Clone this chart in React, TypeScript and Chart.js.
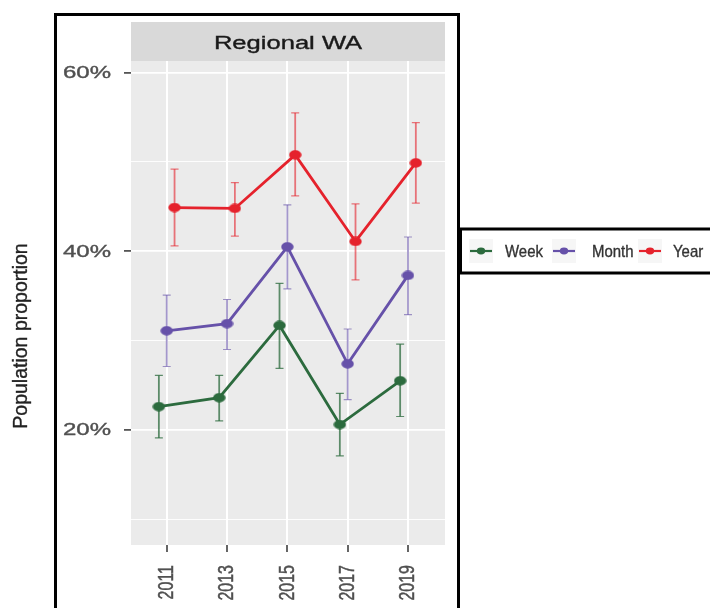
import { useEffect, useRef } from "react";
import { Chart, registerables } from "chart.js";

Chart.register(...registerables);

// ---------- data ----------
const YEARS = [2011, 2013, 2015, 2017, 2019];
const SERIES_NAMES = ["Week", "Month", "Year"];

const WEEK = [22.6, 23.6, 31.7, 20.6, 25.5];
const WEEK_LO = [19.1, 21.0, 26.9, 17.1, 21.5];
const WEEK_HI = [26.1, 26.1, 36.4, 24.1, 29.6];

const MONTH = [31.1, 31.9, 40.5, 27.4, 37.3];
const MONTH_LO = [27.1, 29.0, 35.8, 23.4, 32.9];
const MONTH_HI = [35.1, 34.6, 45.2, 31.3, 41.6];

const YEAR = [44.9, 44.8, 50.8, 41.1, 49.9];
const YEAR_LO = [40.6, 41.7, 46.2, 36.8, 45.4];
const YEAR_HI = [49.2, 47.7, 55.5, 45.3, 54.4];

const Y_GRID = [10, 20, 30, 40, 50, 60];
const Y_LABELED = [20, 40, 60];
const PANEL_TITLE = "Regional WA";
const Y_TITLE = "Population proportion";

// ---------- styling ----------
const COLORS = ["#2C6B3E", "#6651A9", "#E5222C"];
const ERR_COLORS = ["rgba(44,107,62,0.75)", "rgba(102,81,169,0.6)", "rgba(229,34,44,0.6)"];
const DODGE = [-0.26, 0, 0.26];
const FONT = "'Liberation Sans', Arial, sans-serif";

function makeDot(color: string, w: number, h: number) {
  const c = document.createElement("canvas");
  c.width = w;
  c.height = h;
  const g = c.getContext("2d")!;
  g.fillStyle = color;
  g.beginPath();
  g.ellipse(w / 2, h / 2, w / 2 - 0.3, h / 2 - 0.3, 0, 0, Math.PI * 2);
  g.fill();
  return c;
}

function stretchedText(
  ctx: CanvasRenderingContext2D,
  text: string,
  x: number,
  y: number,
  font: string,
  color: string,
  sx: number,
  sy: number,
  rotate: number,
  align: CanvasTextAlign,
  baseline: CanvasTextBaseline
) {
  ctx.save();
  ctx.translate(x, y);
  ctx.scale(sx, sy);
  if (rotate) ctx.rotate(rotate);
  ctx.font = font;
  ctx.fillStyle = color;
  ctx.strokeStyle = color;
  ctx.lineWidth = 0.35;
  ctx.textAlign = align;
  ctx.textBaseline = baseline;
  ctx.fillText(text, 0, 0);
  ctx.strokeText(text, 0, 0);
  ctx.restore();
}

export default function App() {
  const ref = useRef<HTMLCanvasElement | null>(null);

  useEffect(() => {
    const canvas = ref.current;
    if (!canvas) return;

    const values = [WEEK, MONTH, YEAR];
    const lows = [WEEK_LO, MONTH_LO, YEAR_LO];
    const highs = [WEEK_HI, MONTH_HI, YEAR_HI];

    const panelPlugin = {
      id: "panelPlugin",
      beforeDraw(chart: any) {
        const { ctx, chartArea } = chart;
        ctx.save();
        ctx.fillStyle = "#ffffff";
        ctx.fillRect(0, 0, chart.width, chart.height);
        ctx.fillStyle = "#EBEBEB";
        ctx.fillRect(chartArea.left, chartArea.top, chartArea.right - chartArea.left, chartArea.bottom - chartArea.top);
        // strip
        ctx.fillStyle = "#D9D9D9";
        ctx.fillRect(chartArea.left, 22, chartArea.right - chartArea.left, chartArea.top - 22);
        ctx.restore();
      },
      beforeDatasetsDraw(chart: any) {
        const { ctx } = chart;
        const xs = chart.scales.x;
        const ys = chart.scales.y;
        ctx.save();
        for (let s = 0; s < values.length; s++) {
          ctx.strokeStyle = ERR_COLORS[s];
          for (let i = 0; i < YEARS.length; i++) {
            const x = xs.getPixelForValue(YEARS[i] + DODGE[s]);
            const yl = ys.getPixelForValue(lows[s][i]);
            const yh = ys.getPixelForValue(highs[s][i]);
            ctx.lineWidth = 1.8;
            ctx.beginPath();
            ctx.moveTo(x, yl);
            ctx.lineTo(x, yh);
            ctx.stroke();
            ctx.lineWidth = 1.2;
            ctx.beginPath();
            ctx.moveTo(x - 4, yl);
            ctx.lineTo(x + 4, yl);
            ctx.moveTo(x - 4, yh);
            ctx.lineTo(x + 4, yh);
            ctx.stroke();
          }
        }
        ctx.restore();
      },
      afterDraw(chart: any) {
        const { ctx, chartArea } = chart;
        const xs = chart.scales.x;
        const ys = chart.scales.y;
        const tickColor = "#505050";
        // strip title
        stretchedText(ctx, PANEL_TITLE, (chartArea.left + chartArea.right) / 2, 49, `18px ${FONT}`, "#1A1A1A", 1.42, 1, 0, "center", "alphabetic");
        // y tick labels
        for (const v of Y_LABELED) {
          const y = ys.getPixelForValue(v);
          stretchedText(ctx, `${v}%`, 111, y + 1, `16px ${FONT}`, tickColor, 1.5, 1, 0, "right", "middle");
        }
        // x tick labels
        for (const yr of YEARS) {
          const x = xs.getPixelForValue(yr);
          stretchedText(ctx, String(yr), x, 565, `16px ${FONT}`, tickColor, 1.4, 1, -Math.PI / 2, "right", "middle");
        }
        // y title
        stretchedText(ctx, Y_TITLE, 27, 336, `19.5px ${FONT}`, "#222222", 1, 1, -Math.PI / 2, "center", "alphabetic");

        // outer frame
        ctx.save();
        ctx.strokeStyle = "#000000";
        ctx.lineWidth = 3;
        ctx.strokeRect(55.5, 14.5, 403, 700);
        // legend box
        ctx.fillStyle = "#ffffff";
        ctx.fillRect(460, 229, 260, 44);
        ctx.strokeRect(460.5, 229, 300, 44);
        const keyCenters = [481, 564, 650];
        const textX = [505, 592, 673];
        const ly = 251;
        for (let s = 0; s < SERIES_NAMES.length; s++) {
          const cx = keyCenters[s];
          ctx.fillStyle = "#F6F6F6";
          ctx.fillRect(cx - 12, ly - 12, 24, 24);
          ctx.strokeStyle = COLORS[s];
          ctx.lineWidth = 2.2;
          ctx.beginPath();
          ctx.moveTo(cx - 11, ly);
          ctx.lineTo(cx + 11, ly);
          ctx.stroke();
          ctx.fillStyle = COLORS[s];
          ctx.beginPath();
          ctx.ellipse(cx, ly, 4.2, 3.4, 0, 0, Math.PI * 2);
          ctx.fill();
          stretchedText(ctx, SERIES_NAMES[s], textX[s], ly + 1, `17px ${FONT}`, "#333333", 0.88, 1, 0, "left", "middle");
        }
        ctx.restore();
      },
    };

    const datasets = values.map((vals, s) => ({
      label: SERIES_NAMES[s],
      data: YEARS.map((yr, i) => ({ x: yr + DODGE[s], y: vals[i] })),
      borderColor: COLORS[s],
      backgroundColor: COLORS[s],
      borderWidth: 2.8,
      pointStyle: makeDot(COLORS[s], 13, 10) as any,
      pointRadius: 5,
      tension: 0,
      fill: false,
    }));

    const chart = new Chart(canvas, {
      type: "line",
      data: { datasets },
      options: {
        responsive: false,
        animation: false,
        events: [],
        layout: { padding: { left: 0, top: 61, right: 265, bottom: 0 } },
        plugins: { legend: { display: false }, tooltip: { enabled: false }, title: { display: false } },
        scales: {
          x: {
            type: "linear",
            min: 2009.816,
            max: 2020.227,
            afterBuildTicks: (scale: any) => {
              scale.ticks = YEARS.map((v) => ({ value: v }));
            },
            afterFit: (scale: any) => {
              scale.height = 63;
            },
            ticks: { display: false },
            border: { display: false },
            grid: {
              color: "#FFFFFF",
              lineWidth: 2,
              drawTicks: true,
              tickLength: 7,
              tickColor: "#555555",
              tickWidth: 1.8,
            } as any,
          },
          y: {
            type: "linear",
            min: 7.11,
            max: 61.31,
            afterBuildTicks: (scale: any) => {
              scale.ticks = Y_GRID.map((v) => ({ value: v }));
            },
            afterFit: (scale: any) => {
              scale.width = 131;
            },
            ticks: { display: false },
            border: { display: false },
            grid: {
              color: "#FFFFFF",
              lineWidth: (c: any) => (Y_LABELED.includes(c.tick?.value) ? 1.8 : 0.9),
              drawTicks: true,
              tickLength: 7,
              tickColor: (c: any) => (Y_LABELED.includes(c.tick?.value) ? "#555555" : "rgba(0,0,0,0)"),
              tickWidth: 1.8,
            } as any,
          },
        },
      },
      plugins: [panelPlugin],
    } as any);

    return () => chart.destroy();
  }, []);

  return (
    <div style={{ position: "fixed", left: 0, top: 0, width: 710, height: 608, background: "#fff" }}>
      <canvas ref={ref} width={710} height={608} style={{ display: "block", width: 710, height: 608 }} />
    </div>
  );
}
